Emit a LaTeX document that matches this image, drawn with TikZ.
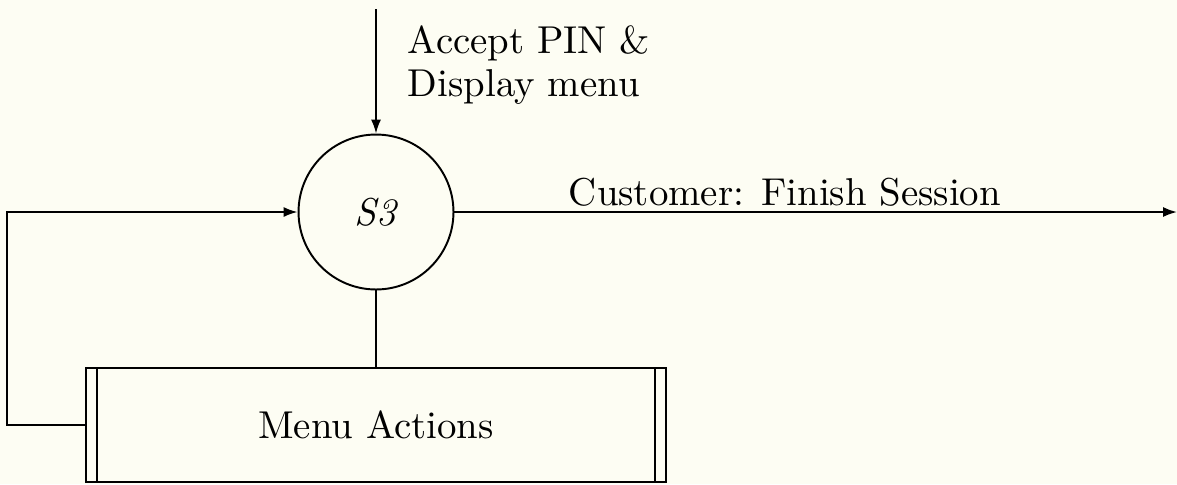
\documentclass[tikz,border=0pt]{standalone}
\usetikzlibrary{arrows.meta}
\definecolor{paper}{RGB}{253,253,243}
\begin{document}
\begin{tikzpicture}[x=0.2575pt, y=-0.2575pt,
  line width=0.5pt,
  flow/.style={-{Latex[length=3.6pt,width=2.6pt]}},
  process/.style={circle, draw, minimum size=39.9pt, inner sep=0pt},
  datastore/.style={rectangle, draw, minimum width=149.35pt, minimum height=29.36pt, inner sep=0pt},
  storebar/.style={line width=0.5pt},
  lbl/.style={inner sep=0pt}]
  % canvas
  \fill[paper] (0,0) rectangle (1177,484);
  \useasboundingbox (0,0) rectangle (1177,484);

  % process bubble and data store with its end bars
  \node[process] (s3) at (376,212) {\textit{S3}};
  \node[datastore] (ma) at (376,425) {Menu Actions};
  \draw[storebar] ([xshift=3.2pt]ma.north west) -- ([xshift=3.2pt]ma.south west);
  \draw[storebar] ([xshift=-3.2pt]ma.north east) -- ([xshift=-3.2pt]ma.south east);

  % free ends of the flows
  \coordinate (in) at (376,9);
  \coordinate (out) at (1177,212);
  \coordinate (loop) at (7,425);

  % flows
  \draw[flow] (in) -- (s3.north);
  \draw[flow] (s3.east) -- (out);
  \draw (s3.south) -- (ma.north);
  \draw[flow] (ma.west) -- (loop) |- (s3.west);

  % flow labels
  \node[lbl, anchor=north west, align=left] (lin) at (407,25) {Accept PIN \&\\[-0.9pt]Display menu};
  \node[lbl, anchor=base west] (lout) at (568,205) {Customer: Finish Session};
\end{tikzpicture}
\end{document}
